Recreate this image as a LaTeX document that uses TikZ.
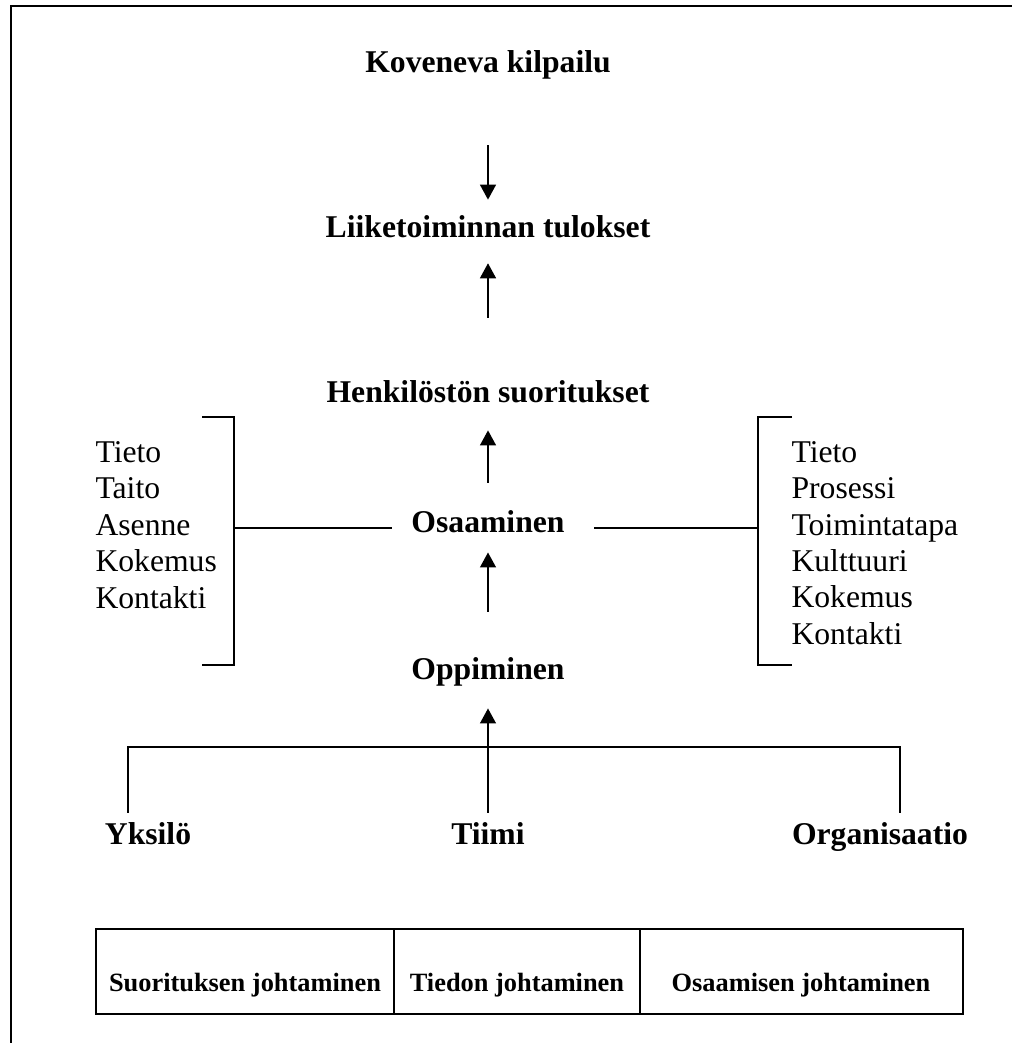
\documentclass[tikz,border=0pt]{standalone}
\usepackage{fontspec}
\setmainfont{Liberation Serif}
\usetikzlibrary{arrows.meta}
\tikzset{
  otsikko/.style={font=\fontsize{12}{14}\selectfont\bfseries, inner sep=0pt, text height=9pt, text depth=3pt},
  lista/.style={align=left, anchor=west, inner sep=0pt, font=\fontsize{12}{13.8}\selectfont},
  solu/.style={font=\fontsize{10}{12}\selectfont\bfseries, inner sep=0pt, anchor=base},
  nuoli/.style={-{Triangle[length=5.7pt,width=6pt]}, line width=0.75pt},
  viiva/.style={line width=0.75pt}
}
\begin{document}
\begin{tikzpicture}[x=0.379pt, y=-0.379pt]
		\useasboundingbox (0,0) rectangle (1012,1043);
		% frame
		\draw[line width=0.8pt] (1030,6) -- (11,6) -- (11,1060);
		% headings
		\node[otsikko] (kov) at (488,65) {Koveneva kilpailu};
		\node[otsikko] (liike) at (488,230) {Liiketoiminnan tulokset};
		\node[otsikko] (henk) at (488,395) {Henkilöstön suoritukset};
		\node[otsikko] (osa) at (488,525) {Osaaminen};
		\node[otsikko] (opp) at (488,672) {Oppiminen};
		\node[otsikko] (yks) at (148,837) {Yksilö};
		\node[otsikko] (tiimi) at (488,837) {Tiimi};
		\node[otsikko] (org) at (880,837) {Organisaatio};
		% arrows
		\draw[nuoli, shorten <=24.3pt, shorten >=5.3pt] (kov) -- (liike);
		\draw[nuoli, shorten <=23pt, shorten >=6.4pt] (henk) -- (liike);
		\draw[nuoli, shorten <=9.9pt, shorten >=7.2pt] (osa) -- (henk);
		\draw[nuoli, shorten <=16.7pt, shorten >=4.2pt] (opp) -- (osa);
		\draw[nuoli, shorten <=3pt, shorten >=7.6pt] (tiimi) -- (opp);
		% branches below
		\coordinate (haara) at (900,747);
		\draw[viiva] ([shift={(-20,-8)}]yks.north) |- (haara) -- ([shift={(20,-8)}]org.north);
		% brackets
		\coordinate (vsulku) at (234,528);
		\coordinate (osulku) at (758,528);
		\draw[viiva] (202,417) -| (234,665) -- (202,665);
		\draw[viiva] (792,417) -| (758,665) -- (792,665);
		\draw[viiva, shorten >=7.2pt] (vsulku) -- (vsulku -| osa.west);
		\draw[viiva, shorten >=11pt] (osulku) -- (osulku -| osa.east);
		\node[lista] (vlista) at (95,525) {Tieto\\Taito\\Asenne\\Kokemus\\Kontakti};
		\node[lista] (olista) at (791,543) {Tieto\\Prosessi\\Toimintatapa\\Kulttuuri\\Kokemus\\Kontakti};
		% table
		\draw[line width=1pt] (96,929) rectangle (963,1014);
		\draw[line width=0.6pt] (394,929) -- (394,1014);
		\draw[line width=0.6pt] (640,929) -- (640,1014);
		\node[solu] (suor) at (245,991) {Suorituksen johtaminen};
		\node[solu] (tied) at (517,991) {Tiedon johtaminen};
		\node[solu] (osjoh) at (801,991) {Osaamisen johtaminen};
	\end{tikzpicture}
\end{document}
